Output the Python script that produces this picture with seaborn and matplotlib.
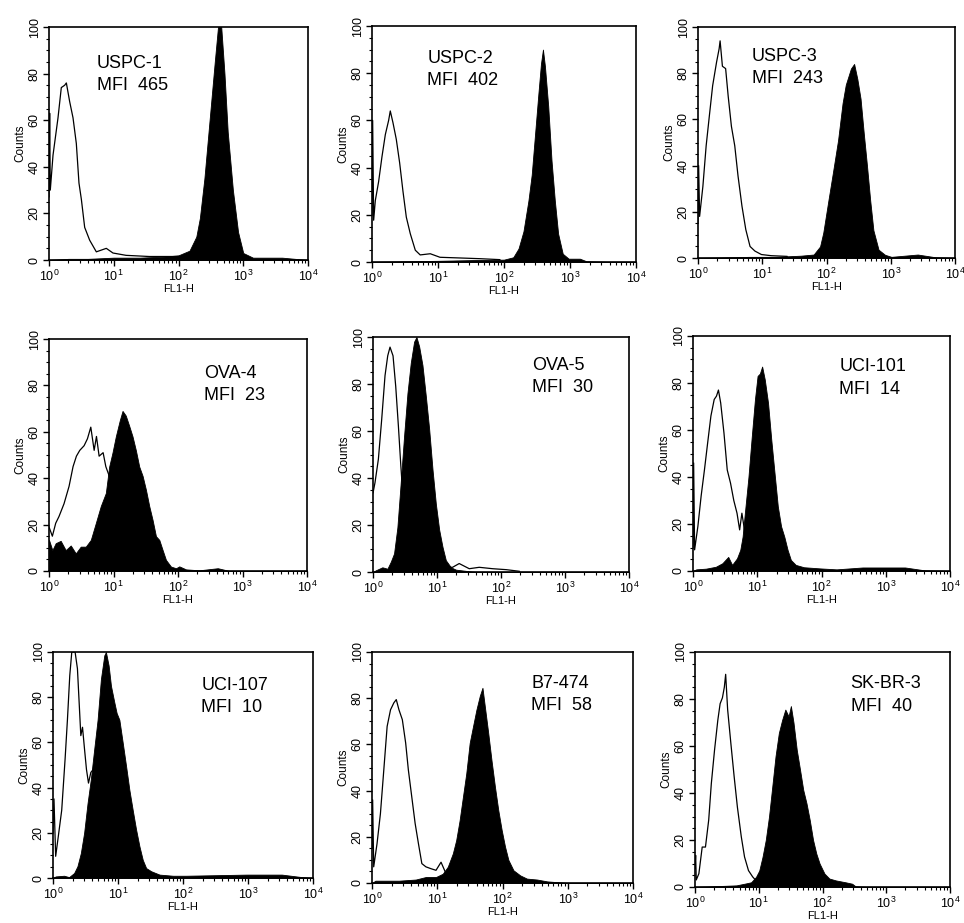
import numpy as np
import pandas as pd
import matplotlib
matplotlib.use("Agg")
import matplotlib.pyplot as plt
from matplotlib.ticker import LogLocator, MultipleLocator
import seaborn as sns

# --- panel labels ---
cell_lines = ["USPC-1", "USPC-2", "USPC-3", "OVA-4", "OVA-5", "UCI-101", "UCI-107", "B7-474", "SK-BR-3"]
mfi_values = [465, 402, 243, 23, 30, 14, 10, 58, 40]

# --- histograms: log10(FL1-H) position, counts ---
# open = isotype control (outline), filled = antibody staining
uspc1_open_x = [0.0, 0.01, 0.02, 0.062, 0.139, 0.19, 0.242, 0.268, 0.319, 0.371, 0.422, 0.463, 0.5, 0.551, 0.628, 0.731, 0.885, 0.988, 1.19, 1.55, 1.92, 2.22]
uspc1_open_y = [27, 63, 30, 45, 61, 74, 75, 76, 68, 61, 50, 33, 26, 14, 8.5, 3.5, 5, 3, 2, 1.5, 1.5, 1.5]
uspc1_fill_x = [0.0, 0.3, 0.6, 1.0, 1.4, 1.8, 2.0, 2.17, 2.275, 2.33, 2.40, 2.48, 2.56, 2.61, 2.66, 2.71, 2.76, 2.84, 2.92, 3.0, 3.15, 3.4, 3.6, 3.8, 4.0]
uspc1_fill_y = [0, 0.5, 0.5, 1, 1, 1.5, 2, 4, 10, 18, 35, 60, 85, 100, 100, 80, 55, 30, 12, 3, 1, 1, 1, 0.5, 0]

uspc2_open_x = [0.0, 0.01, 0.025, 0.05, 0.10, 0.151, 0.202, 0.252, 0.277, 0.318, 0.368, 0.419, 0.469, 0.52, 0.58, 0.656, 0.73, 0.883, 1.03, 1.34, 1.64, 1.94]
uspc2_open_y = [20, 60, 17.7, 26, 34, 44.6, 54, 60, 64, 59, 52, 42, 30, 19, 12, 5, 3, 3.5, 2, 1.7, 1.4, 1]
uspc2_fill_x = [0.0, 0.5, 1.0, 1.5, 2.0, 2.14, 2.22, 2.295, 2.37, 2.42, 2.47, 2.52, 2.56, 2.59, 2.62, 2.67, 2.72, 2.77, 2.82, 2.89, 2.98, 3.15, 3.25, 3.6, 4.0]
uspc2_fill_y = [0, 0.3, 0.5, 0.8, 1, 2, 5.7, 13, 26, 37, 54, 71, 84, 90, 83, 66, 43, 26, 12, 3.5, 1.4, 1.4, 0.3, 0, 0]

uspc3_open_x = [0.0, 0.01, 0.025, 0.076, 0.127, 0.177, 0.228, 0.289, 0.329, 0.344, 0.38, 0.43, 0.47, 0.52, 0.572, 0.623, 0.684, 0.744, 0.81, 0.886, 0.987, 1.14, 1.39]
uspc3_open_y = [15, 40, 18, 31, 48.6, 61.6, 74.6, 84.8, 90.6, 94, 83, 82, 70, 57, 48.6, 35.5, 22.5, 12.3, 5, 3, 1.5, 1, 0.7]
uspc3_fill_x = [0.0, 0.8, 1.2, 1.6, 1.80, 1.90, 1.95, 2.03, 2.10, 2.18, 2.25, 2.30, 2.38, 2.43, 2.48, 2.53, 2.58, 2.63, 2.68, 2.73, 2.81, 2.91, 3.01, 3.42, 3.7, 4.0]
uspc3_fill_y = [0, 0.5, 0.5, 1, 1.5, 5, 11, 25, 37, 51, 67, 75, 82, 84, 77.5, 69, 54, 40, 25, 12, 3.6, 1.4, 0.5, 1.5, 0.3, 0]

ova4_open_x = [0.0, 0.052, 0.104, 0.155, 0.233, 0.311, 0.373, 0.425, 0.477, 0.544, 0.596, 0.648, 0.70, 0.736, 0.777, 0.839, 0.881, 0.933, 1.036, 1.19, 1.35, 1.55]
ova4_open_y = [19, 15, 20.6, 23.5, 29, 36.5, 45, 49.5, 52, 54, 57, 62, 52, 58, 49.5, 51, 45, 41, 30, 15, 5, 1]
ova4_fill_x = [0.0, 0.052, 0.104, 0.181, 0.259, 0.337, 0.415, 0.492, 0.57, 0.648, 0.725, 0.803, 0.881, 0.933, 0.984, 1.036, 1.098, 1.14, 1.19, 1.244, 1.295, 1.347, 1.399, 1.451, 1.503, 1.554, 1.606, 1.658, 1.71, 1.762, 1.813, 1.891, 1.969, 2.02, 2.124, 2.33, 2.617, 2.8, 4.0]
ova4_fill_y = [13.4, 9, 12, 13, 9, 11, 7.6, 10.5, 10.5, 13.4, 20.6, 28, 33.6, 45, 51, 58, 65, 69, 67, 62.5, 58, 52, 45, 41, 35, 28, 22, 15, 13.4, 9, 4.8, 1.9, 1.2, 2, 0.7, 0.3, 1.2, 0, 0]

ova5_open_x = [0.0, 0.031, 0.084, 0.136, 0.188, 0.23, 0.266, 0.313, 0.355, 0.397, 0.433, 0.51, 0.616, 0.825, 1.243, 1.347, 1.504, 1.66, 1.87, 2.08, 2.29]
ova5_open_y = [33.6, 38, 48, 65, 83.6, 92, 95.7, 92, 79, 62, 46, 15, 5, 2, 2, 3.6, 1.4, 2, 1.4, 1, 0.3]
ova5_fill_x = [0.0, 0.042, 0.146, 0.225, 0.277, 0.329, 0.381, 0.433, 0.486, 0.538, 0.59, 0.642, 0.679, 0.721, 0.773, 0.825, 0.877, 0.93, 0.982, 1.034, 1.086, 1.138, 1.217, 1.295, 1.6, 4.0]
ova5_fill_y = [0, 0.7, 2, 1.4, 4.3, 7.9, 19, 38, 58, 76, 89, 98, 100, 96, 88, 75, 61, 43.6, 29, 18, 10.7, 5, 2, 1, 0, 0]

uci101_open_x = [0.0, 0.01, 0.025, 0.076, 0.127, 0.178, 0.228, 0.279, 0.33, 0.365, 0.396, 0.431, 0.482, 0.533, 0.584, 0.635, 0.685, 0.726, 0.761, 0.787, 0.822, 0.914, 1.117]
uci101_open_y = [10, 46, 9, 19, 32, 43, 54.5, 66, 73, 74.4, 77, 71.5, 58.7, 43, 37.4, 30, 24.6, 17.5, 24.6, 20, 13, 5, 1]
uci101_fill_x = [0.0, 0.051, 0.203, 0.355, 0.457, 0.548, 0.609, 0.685, 0.736, 0.772, 0.812, 0.863, 0.914, 0.964, 1.005, 1.041, 1.076, 1.117, 1.168, 1.218, 1.269, 1.32, 1.371, 1.421, 1.472, 1.523, 1.599, 1.726, 1.98, 2.234, 2.64, 3.30, 3.6, 4.0]
uci101_fill_y = [0, 0.7, 1, 1.8, 3.3, 6, 2.6, 5.4, 9, 14.6, 26, 40, 57, 73, 83, 84, 87, 81.5, 71.5, 56, 41.7, 27.5, 19, 14.6, 9, 4.7, 2.6, 1.6, 1.1, 0.7, 1.5, 1.5, 0.3, 0]

uci107_open_x = [0.0, 0.015, 0.041, 0.082, 0.134, 0.186, 0.222, 0.258, 0.289, 0.34, 0.376, 0.402, 0.428, 0.454, 0.485, 0.515, 0.546, 0.582, 0.619, 0.711, 0.866, 1.12]
uci107_open_y = [20, 35, 9.6, 18.5, 30, 52.6, 70, 89.6, 100, 100, 92.6, 77.8, 63, 66.7, 57, 48, 42, 46.7, 48, 25, 8, 1]
uci107_fill_x = [0.0, 0.041, 0.17, 0.247, 0.325, 0.376, 0.428, 0.479, 0.531, 0.582, 0.634, 0.686, 0.737, 0.789, 0.814, 0.856, 0.892, 0.943, 0.979, 1.021, 1.072, 1.124, 1.175, 1.227, 1.278, 1.33, 1.381, 1.433, 1.51, 1.639, 1.845, 2.05, 2.98, 3.52, 3.8, 4.0]
uci107_fill_y = [0, 0.7, 1, 0.4, 2.2, 5.2, 11, 20, 33, 43.7, 57, 70, 88, 98.5, 100, 94, 85, 77.8, 73, 70, 60, 49.6, 39, 30, 21.5, 14, 8, 4.4, 3, 1.5, 1, 1, 1.5, 1.5, 0.5, 0]

b7_open_x = [0.0, 0.01, 0.026, 0.077, 0.129, 0.181, 0.232, 0.284, 0.335, 0.372, 0.413, 0.465, 0.516, 0.557, 0.609, 0.661, 0.712, 0.764, 0.826, 0.903, 0.981, 1.058, 1.135, 1.239]
b7_open_y = [15, 36, 7, 17, 30, 49, 67.8, 75, 78, 79.4, 75, 70.7, 60.6, 49, 37.4, 25.8, 17, 8.4, 7, 6.2, 5.5, 9, 4, 2]
b7_fill_x = [0.0, 0.052, 0.413, 0.671, 0.826, 0.981, 1.084, 1.161, 1.239, 1.29, 1.342, 1.394, 1.445, 1.497, 1.548, 1.6, 1.652, 1.693, 1.729, 1.781, 1.832, 1.884, 1.935, 1.987, 2.039, 2.09, 2.168, 2.271, 2.374, 2.529, 2.684, 3.0, 4.0]
b7_fill_y = [0, 1, 1, 1.5, 2.6, 2.6, 4, 7, 12.8, 18.5, 27, 37.4, 47.5, 60.6, 67.8, 75, 81, 84.5, 76.5, 65, 53, 41.7, 31.6, 23, 15.7, 10, 5.5, 3.3, 1.9, 1.5, 0.7, 0, 0]

skbr3_open_x = [0.0, 0.01, 0.02, 0.061, 0.113, 0.164, 0.215, 0.256, 0.307, 0.358, 0.394, 0.43, 0.46, 0.481, 0.512, 0.563, 0.614, 0.665, 0.726, 0.777, 0.839, 0.905, 0.982, 1.084]
skbr3_open_y = [8, 13.5, 3, 5.7, 17, 17, 28.5, 44, 58.4, 71, 78, 80.5, 85, 90.5, 75.5, 61, 47, 34, 21.4, 12.8, 7, 4.3, 2, 0.5]
skbr3_fill_x = [0.0, 0.65, 0.777, 0.88, 0.957, 1.008, 1.059, 1.11, 1.161, 1.212, 1.263, 1.315, 1.366, 1.417, 1.468, 1.504, 1.545, 1.596, 1.647, 1.698, 1.749, 1.8, 1.852, 1.903, 1.954, 2.031, 2.107, 2.21, 2.363, 2.465, 2.517, 2.7, 4.0]
skbr3_fill_y = [0, 0.7, 1.4, 2, 4.3, 7, 12.8, 20, 30, 42.7, 55.6, 65.5, 71, 75.5, 72.6, 77, 70, 58.4, 50, 41.3, 35.6, 28.5, 20, 14.2, 10, 5.7, 3.6, 2.8, 2, 1.4, 0.3, 0, 0]

open_x = [uspc1_open_x, uspc2_open_x, uspc3_open_x, ova4_open_x, ova5_open_x, uci101_open_x, uci107_open_x, b7_open_x, skbr3_open_x]
open_y = [uspc1_open_y, uspc2_open_y, uspc3_open_y, ova4_open_y, ova5_open_y, uci101_open_y, uci107_open_y, b7_open_y, skbr3_open_y]
fill_x = [uspc1_fill_x, uspc2_fill_x, uspc3_fill_x, ova4_fill_x, ova5_fill_x, uci101_fill_x, uci107_fill_x, b7_fill_x, skbr3_fill_x]
fill_y = [uspc1_fill_y, uspc2_fill_y, uspc3_fill_y, ova4_fill_y, ova5_fill_y, uci101_fill_y, uci107_fill_y, b7_fill_y, skbr3_fill_y]

# --- layout (pixels: left, top, right, bottom) ---
W, H = 964, 923
panel_px = [(49, 27, 308, 260), (372, 26, 636, 262), (698, 27, 955, 258),
            (49, 339, 307, 571), (373, 337, 629, 572), (693, 336, 950, 571),
            (53, 652, 313, 878), (372, 652, 633, 883), (695, 652, 950, 887)]
label_pos = [(0.185, 0.88), (0.21, 0.90), (0.21, 0.91),
             (0.60, 0.89), (0.62, 0.915), (0.57, 0.905),
             (0.57, 0.89), (0.61, 0.90), (0.61, 0.90)]

sns.set_style("ticks")
plt.rcParams['font.family'] = ['Liberation Sans', 'DejaVu Sans']
plt.rcParams.update({
    'axes.linewidth': 1.2, 'axes.edgecolor': 'black', 'axes.labelcolor': 'black',
    'text.color': 'black', 'xtick.color': 'black', 'ytick.color': 'black',
})

fig = plt.figure(figsize=(W / 100, H / 100), dpi=100)

for i in range(9):
    l, t, r, b = panel_px[i]
    ax = fig.add_axes([l / W, 1 - b / H, (r - l) / W, (b - t) / H])

    fx = 10 ** np.array(fill_x[i])
    ax.fill_between(fx, fill_y[i], 0, color="black", lw=0.6, edgecolor="black")

    df = pd.DataFrame({"FL1-H": 10 ** np.array(open_x[i]), "Counts": open_y[i]})
    sns.lineplot(data=df, x="FL1-H", y="Counts", ax=ax, color="black",
                 lw=0.9, estimator=None, sort=False)

    ax.set_xscale("log")
    ax.set_xlim(1, 1e4)
    ax.set_ylim(0, 100)
    ax.set_xticks([1, 10, 100, 1000, 10000])
    ax.xaxis.set_minor_locator(LogLocator(base=10, subs=np.arange(2, 10)))
    ax.yaxis.set_major_locator(MultipleLocator(20))
    ax.yaxis.set_minor_locator(MultipleLocator(5))
    ax.tick_params(axis="both", which="major", direction="out", length=4, width=1, labelsize=9, pad=2)
    ax.tick_params(axis="both", which="minor", direction="out", length=2, width=0.8)
    for lab in ax.get_yticklabels():
        lab.set_rotation(90)
        lab.set_va("center")
    ax.set_xlabel("FL1-H", fontsize=8, labelpad=0)
    ax.set_ylabel("Counts", fontsize=8.5, labelpad=2)
    for s in ax.spines.values():
        s.set_visible(True)

    ax.text(label_pos[i][0], label_pos[i][1], f"{cell_lines[i]}\nMFI  {mfi_values[i]}",
            transform=ax.transAxes, ha="left", va="top", fontsize=13, linespacing=1.4)

fig.savefig("out.png", dpi=100)
